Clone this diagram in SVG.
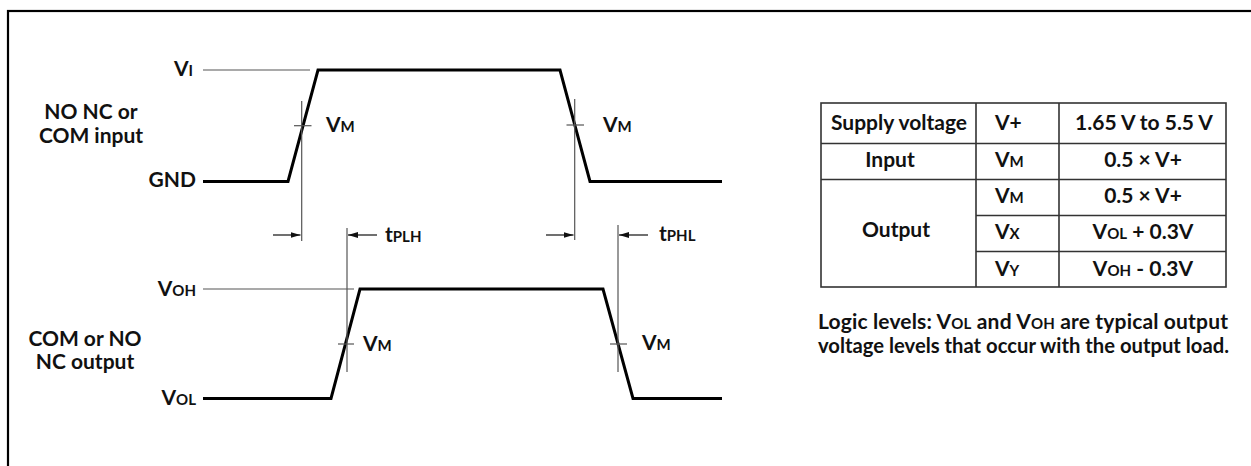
<svg xmlns="http://www.w3.org/2000/svg" width="1251" height="466" viewBox="0 0 1251 466">
<defs>
<style>
text{font-family:Lato,"Liberation Sans",sans-serif;font-weight:700;fill:#111;}
.lbl{font-size:21px;}
.sm{font-size:15px;}
.vm{font-size:21px;}
.vms{font-size:15px;}
.wave{fill:none;stroke:#000;stroke-width:3;stroke-linejoin:miter;}
.thin{fill:none;stroke:#555;stroke-width:1.2;}
.arr{fill:none;stroke:#222;stroke-width:1.3;}
.tbl{fill:none;stroke:#333;stroke-width:1.6;}
</style>
<marker id="ah" viewBox="0 0 10 6" refX="10" refY="3" markerWidth="10" markerHeight="6" markerUnits="userSpaceOnUse" orient="auto">
<path d="M0,0 L10,3 L0,6 Z" fill="#111"/>
</marker>
</defs>
<rect x="8" y="11" width="1260" height="470" fill="none" stroke="#000" stroke-width="2.2"/>

<g id="input-labels">
<text class="lbl" x="91" y="119" text-anchor="middle">NO NC or</text>
<text class="lbl" x="91" y="143" text-anchor="middle">COM input</text>
<text class="lbl" x="193" y="76" text-anchor="end">V<tspan class="sm">I</tspan></text>
<text class="lbl" x="196" y="187" text-anchor="end">GND</text>
</g>
<g id="output-labels">
<text class="lbl" x="85" y="346" text-anchor="middle">COM or NO</text>
<text class="lbl" x="85" y="369" text-anchor="middle">NC output</text>
<text class="lbl" x="196" y="296" text-anchor="end">V<tspan class="sm">OH</tspan></text>
<text class="lbl" x="196" y="405" text-anchor="end">V<tspan class="sm">OL</tspan></text>
</g>

<g id="connectors">
<line class="thin" x1="203" y1="70" x2="310" y2="70"/>
<line class="thin" x1="203" y1="289" x2="354" y2="289"/>
<path class="wave" d="M203,181.5 L288,181.5 L318,70 L560,70 L590,181.5 L722,181.5"/>
<path class="wave" d="M203,398.5 L331,398.5 L360,289 L603,289 L633,398.5 L722,398.5"/>
<line class="thin" x1="301.7" y1="101" x2="301.7" y2="241"/>
<line class="thin" x1="294" y1="125.7" x2="311.5" y2="125.7"/>
<line class="thin" x1="347" y1="228" x2="347" y2="372"/>
<line class="thin" x1="338" y1="344" x2="354" y2="344"/>
<line class="thin" x1="574.7" y1="99" x2="574.7" y2="240"/>
<line class="thin" x1="566.5" y1="125" x2="584" y2="125"/>
<line class="thin" x1="618" y1="225" x2="618" y2="372"/>
<line class="thin" x1="610" y1="344" x2="627" y2="344"/>
<line class="arr" x1="273" y1="235" x2="300.5" y2="235" marker-end="url(#ah)"/>
<line class="arr" x1="377" y1="235" x2="348" y2="235" marker-end="url(#ah)"/>
<line class="arr" x1="546" y1="235" x2="573.5" y2="235" marker-end="url(#ah)"/>
<line class="arr" x1="648" y1="235" x2="619" y2="235" marker-end="url(#ah)"/>
</g>

<g id="vm-labels">
<text class="vm" x="326" y="132">V<tspan class="vms">M</tspan></text>
<text class="vm" x="603" y="132">V<tspan class="vms">M</tspan></text>
<text class="vm" x="363" y="351">V<tspan class="vms">M</tspan></text>
<text class="vm" x="642" y="350">V<tspan class="vms">M</tspan></text>
<text class="lbl" x="385" y="242">t<tspan class="sm">PLH</tspan></text>
<text class="lbl" x="659" y="241">t<tspan class="sm">PHL</tspan></text>
</g>

<g id="table">
<rect class="tbl" x="821" y="103" width="405" height="184"/>
<line class="tbl" x1="976" y1="103" x2="976" y2="287"/>
<line class="tbl" x1="1059" y1="103" x2="1059" y2="287"/>
<line class="tbl" x1="821" y1="143.5" x2="1226" y2="143.5"/>
<line class="tbl" x1="821" y1="179.5" x2="1226" y2="179.5"/>
<line class="tbl" x1="976" y1="215.5" x2="1226" y2="215.5"/>
<line class="tbl" x1="976" y1="251.5" x2="1226" y2="251.5"/>
<text class="lbl" x="899" y="130" text-anchor="middle">Supply voltage</text>
<text class="lbl" x="995" y="130">V+</text>
<text class="lbl" x="1144" y="130" text-anchor="middle">1.65 V to 5.5 V</text>
<text class="lbl" x="890" y="167" text-anchor="middle">Input</text>
<text class="lbl" x="995" y="167">V<tspan class="sm">M</tspan></text>
<text class="lbl" x="1143" y="167" text-anchor="middle">0.5 × V+</text>
<text class="lbl" x="896" y="237" text-anchor="middle">Output</text>
<text class="lbl" x="995" y="203">V<tspan class="sm">M</tspan></text>
<text class="lbl" x="1143" y="203" text-anchor="middle">0.5 × V+</text>
<text class="lbl" x="995" y="239">V<tspan class="sm">X</tspan></text>
<text class="lbl" x="1143" y="239" text-anchor="middle">V<tspan class="sm">OL</tspan> + 0.3V</text>
<text class="lbl" x="995" y="276">V<tspan class="sm">Y</tspan></text>
<text class="lbl" x="1143" y="276" text-anchor="middle">V<tspan class="sm">OH</tspan> - 0.3V</text>
</g>

<g id="note">
<text class="lbl" x="818" y="329" textLength="410" lengthAdjust="spacing">Logic levels: V<tspan class="sm">OL</tspan> and V<tspan class="sm">OH</tspan> are typical output</text>
<text class="lbl" x="818" y="353" textLength="411" lengthAdjust="spacingAndGlyphs">voltage levels that occur with the output load.</text>
</g>
</svg>
